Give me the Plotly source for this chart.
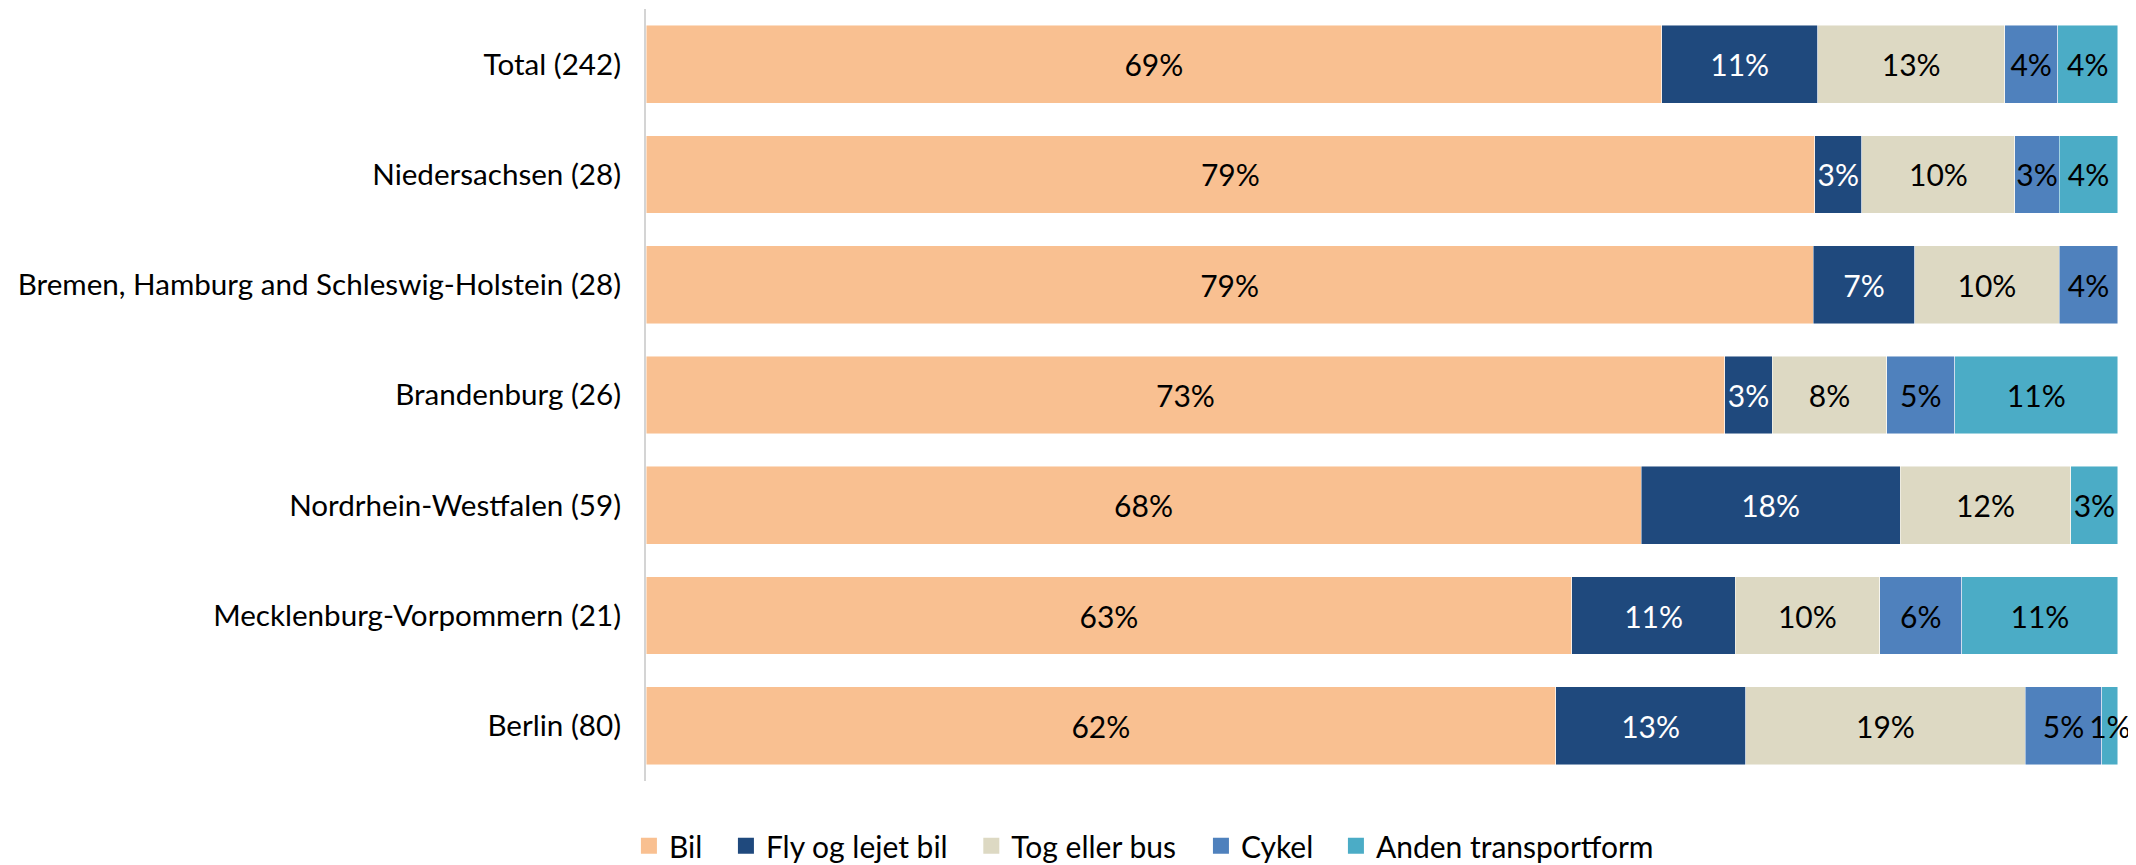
import plotly.graph_objects as go

# Regions with respondent counts, top to bottom
categories = [
    "Total (242)",
    "Niedersachsen (28)",
    "Bremen, Hamburg and Schleswig-Holstein (28)",
    "Brandenburg (26)",
    "Nordrhein-Westfalen (59)",
    "Mecklenburg-Vorpommern (21)",
    "Berlin (80)",
]

# Share of respondents by transport mode (%)
bil = [69.0, 79.4, 79.3, 73.3, 67.6, 62.9, 61.8]
fly = [10.6, 3.2, 6.9, 3.2, 17.6, 11.1, 12.9]
tog = [12.7, 10.4, 9.8, 7.8, 11.6, 9.8, 19.0]
cykel = [3.6, 3.0, 4.0, 4.6, None, 5.6, 5.2]
anden = [4.1, 4.0, None, 11.1, 3.2, 10.6, 1.1]

series = [
    ("Bil", bil, "#F9C091", "black"),
    ("Fly og lejet bil", fly, "#1F497D", "white"),
    ("Tog eller bus", tog, "#DDD9C3", "black"),
    ("Cykel", cykel, "#4F81BD", "black"),
    ("Anden transportform", anden, "#4BACC6", "black"),
]

# one legend per entry so the spacing can follow the original
legend_ids = ["legend", "legend2", "legend3", "legend4", "legend5"]
legend_x = [-0.0116, 0.0543, 0.2210, 0.3770, 0.4687]

fig = go.Figure()
for (name, vals, color, txt_color), lg in zip(series, legend_ids):
    fig.add_trace(
        go.Bar(
            y=categories,
            x=vals,
            name=name,
            orientation="h",
            marker=dict(color=color, line=dict(color="rgba(255,255,255,0.6)", width=0.8)),
            texttemplate="%{x:.0f}%",
            textposition="inside",
            insidetextanchor="middle",
            textangle=0,
            constraintext="none",
            cliponaxis=False,
            textfont=dict(color=txt_color, size=30, family="Lato"),
            hoverinfo="skip",
            showlegend=False,
        )
    )
    # legend-only entry with a bigger square swatch
    fig.add_trace(
        go.Scatter(
            x=[None],
            y=[None],
            mode="markers",
            name=name,
            marker=dict(symbol="square", size=18, color=color),
            legend=lg,
            hoverinfo="skip",
        )
    )

legend_style = dict(
    orientation="h",
    xanchor="left",
    y=-0.084,
    yanchor="middle",
    font=dict(size=30, family="Lato"),
    bgcolor="rgba(0,0,0,0)",
)

fig.update_layout(
    barmode="stack",
    bargap=0.295,
    width=2136,
    height=865,
    margin=dict(l=638, r=26, t=1, b=81),
    paper_bgcolor="white",
    plot_bgcolor="white",
    font=dict(family="Lato", size=30, color="black"),
    showlegend=True,
    **{lg: dict(x=lx, **legend_style) for lg, lx in zip(legend_ids, legend_x)},
)
fig.update_xaxes(range=[0, 100.001], showgrid=False, showticklabels=False,
                 zeroline=False, showline=False, automargin=False)
fig.update_yaxes(
    autorange="reversed",
    automargin=False,
    showgrid=False,
    showline=True,
    linecolor="#D4D4D4",
    linewidth=2,
    ticks="",
    tickfont=dict(size=29.6),
    ticklabelstandoff=17,
)

fig.write_html("out.html")
